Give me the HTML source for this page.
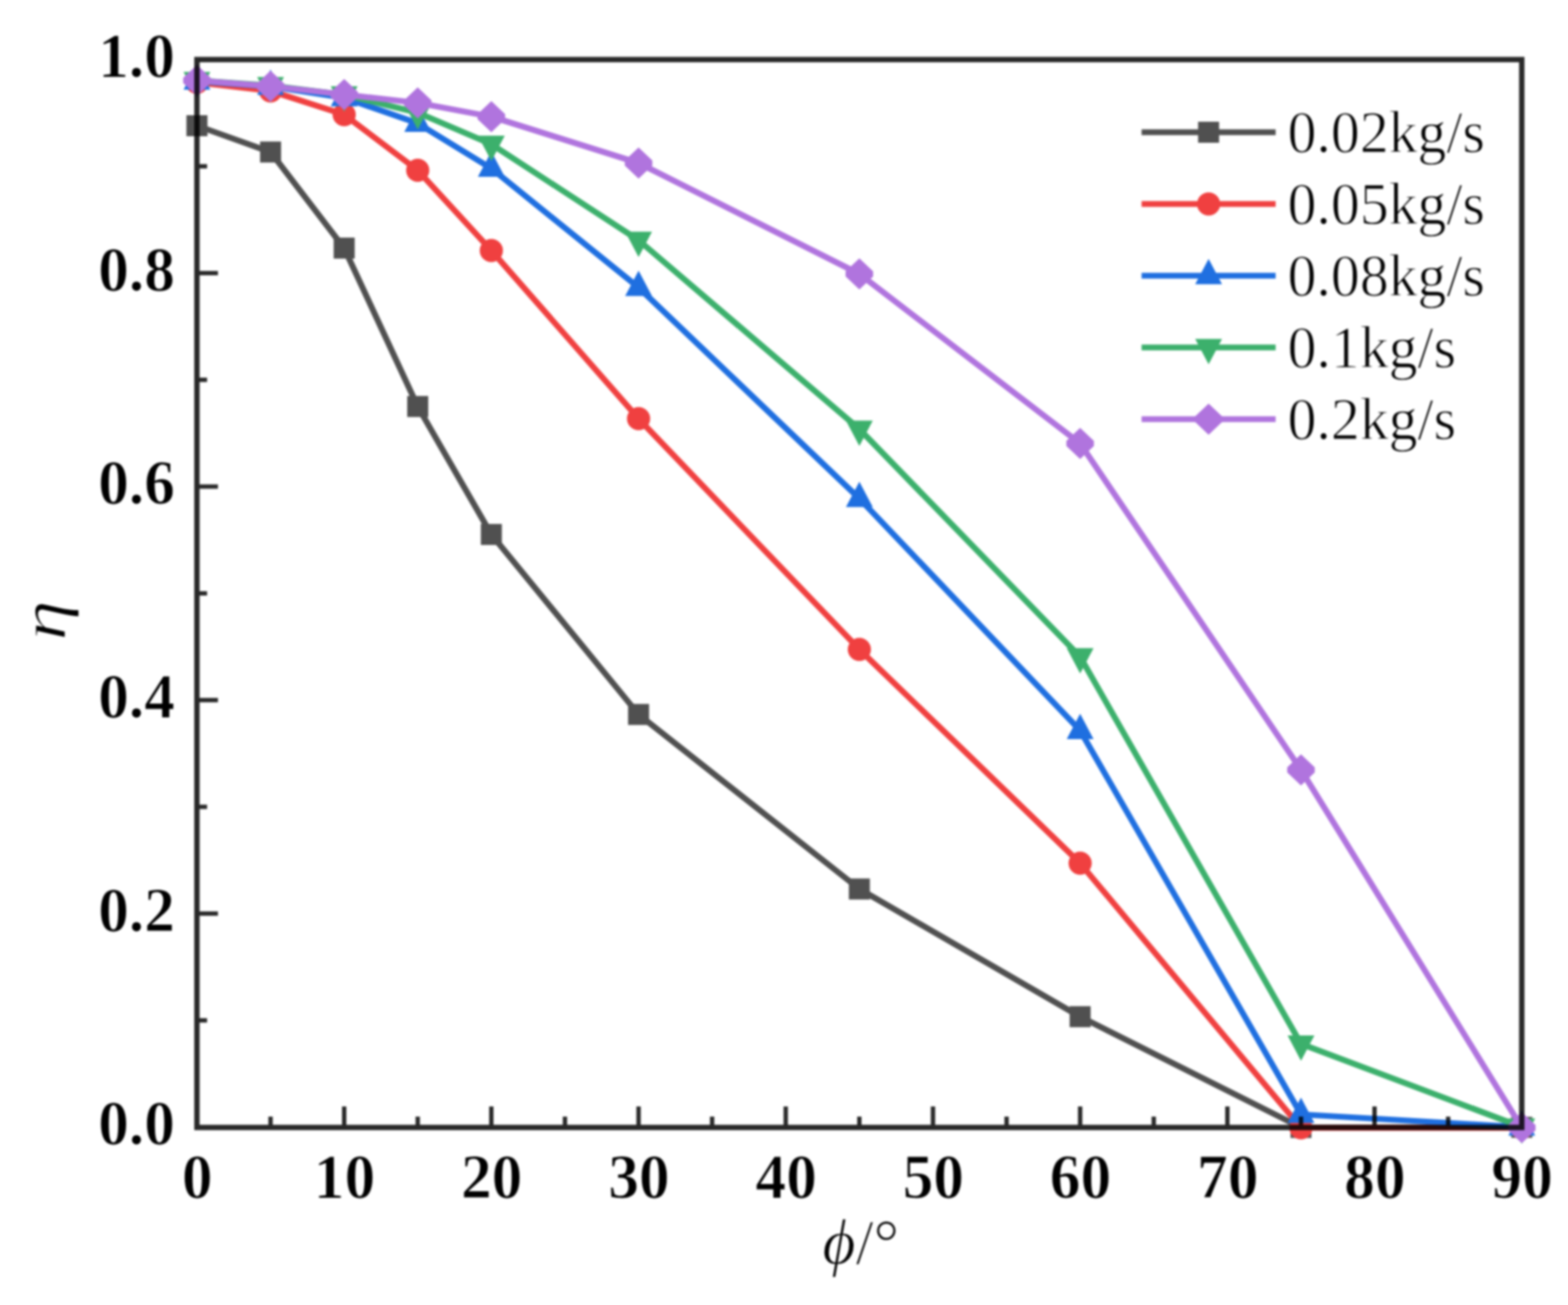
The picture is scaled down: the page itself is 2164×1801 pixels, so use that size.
<!DOCTYPE html>
<html lang="en">
<head>
<meta charset="utf-8">
<title>η – ϕ</title>
<style>
html,body{margin:0;padding:0;background:#fff;}
body{width:2164px;height:1801px;overflow:hidden;}
svg{display:block;filter:blur(1.5px);}
text{font-family:"Liberation Serif","DejaVu Serif",serif;fill:#000;}
.tick{font-weight:bold;font-size:87px;stroke:#fff;stroke-width:1.2px;}
.leg{font-size:82px;stroke:#fff;stroke-width:1.3px;}
.ax{font-size:88.5px;stroke:#fff;stroke-width:1.3px;}
.it{font-style:italic;}
</style>
</head>
<body>
<svg width="2164" height="1801" viewBox="0 0 2164 1801">
<rect x="-10" y="-10" width="2184" height="1821" fill="#fff"/>

<g id="series">
<g><polyline points="271.8,173.5 373.4,209.8 475.0,342.4 576.5,561.0 678.1,737.6 881.3,986.0 1186.0,1226.9 1490.7,1403.1 1795.5,1556.0 2100.2,1555.8" fill="none" stroke="#505050" stroke-width="8.2" stroke-linejoin="round" stroke-linecap="round"/>
<rect x="257.3" y="159.0" width="29" height="29" fill="#505050"/>
<rect x="358.9" y="195.3" width="29" height="29" fill="#505050"/>
<rect x="460.5" y="327.9" width="29" height="29" fill="#505050"/>
<rect x="562.0" y="546.5" width="29" height="29" fill="#505050"/>
<rect x="663.6" y="723.1" width="29" height="29" fill="#505050"/>
<rect x="866.8" y="971.5" width="29" height="29" fill="#505050"/>
<rect x="1171.5" y="1212.4" width="29" height="29" fill="#505050"/>
<rect x="1476.2" y="1388.6" width="29" height="29" fill="#505050"/>
<rect x="1781.0" y="1541.5" width="29" height="29" fill="#505050"/>
<rect x="2085.7" y="1541.3" width="29" height="29" fill="#505050"/>
</g>
<g><polyline points="271.8,113.8 373.4,125.5 475.0,158.2 576.5,235.0 678.1,345.8 881.3,577.8 1186.0,896.2 1490.7,1191.3 1795.5,1556.5 2100.2,1556.3" fill="none" stroke="#f04040" stroke-width="8.2" stroke-linejoin="round" stroke-linecap="round"/>
<circle cx="271.8" cy="113.8" r="16" fill="#f04040"/>
<circle cx="373.4" cy="125.5" r="16" fill="#f04040"/>
<circle cx="475.0" cy="158.2" r="16" fill="#f04040"/>
<circle cx="576.5" cy="235.0" r="16" fill="#f04040"/>
<circle cx="678.1" cy="345.8" r="16" fill="#f04040"/>
<circle cx="881.3" cy="577.8" r="16" fill="#f04040"/>
<circle cx="1186.0" cy="896.2" r="16" fill="#f04040"/>
<circle cx="1490.7" cy="1191.3" r="16" fill="#f04040"/>
<circle cx="1795.5" cy="1556.5" r="16" fill="#f04040"/>
<circle cx="2100.2" cy="1556.3" r="16" fill="#f04040"/>
</g>
<g><polyline points="271.8,112.0 373.4,119.3 475.0,135.0 576.5,170.2 678.1,232.4 881.3,396.8 1186.0,688.0 1490.7,1008.2 1795.5,1538.0 2100.2,1555.5" fill="none" stroke="#1f6fe0" stroke-width="8.2" stroke-linejoin="round" stroke-linecap="round"/>
<polygon points="271.8,88.7 290.3,123.7 253.3,123.7" fill="#1f6fe0"/>
<polygon points="373.4,96.0 391.9,131.0 354.9,131.0" fill="#1f6fe0"/>
<polygon points="475.0,111.7 493.5,146.7 456.5,146.7" fill="#1f6fe0"/>
<polygon points="576.5,146.9 595.0,181.9 558.0,181.9" fill="#1f6fe0"/>
<polygon points="678.1,209.1 696.6,244.1 659.6,244.1" fill="#1f6fe0"/>
<polygon points="881.3,373.5 899.8,408.5 862.8,408.5" fill="#1f6fe0"/>
<polygon points="1186.0,664.7 1204.5,699.7 1167.5,699.7" fill="#1f6fe0"/>
<polygon points="1490.7,984.9 1509.2,1019.9 1472.2,1019.9" fill="#1f6fe0"/>
<polygon points="1795.5,1514.7 1814.0,1549.7 1777.0,1549.7" fill="#1f6fe0"/>
<polygon points="2100.2,1532.2 2118.7,1567.2 2081.7,1567.2" fill="#1f6fe0"/>
</g>
<g><polyline points="271.8,111.0 373.4,118.0 475.0,130.8 576.5,155.5 678.1,199.0 881.3,331.5 1186.0,592.2 1490.7,906.3 1795.5,1440.6 2100.2,1555.3" fill="none" stroke="#3cb06c" stroke-width="8.2" stroke-linejoin="round" stroke-linecap="round"/>
<polygon points="271.8,134.3 290.3,99.3 253.3,99.3" fill="#3cb06c"/>
<polygon points="373.4,141.3 391.9,106.3 354.9,106.3" fill="#3cb06c"/>
<polygon points="475.0,154.1 493.5,119.1 456.5,119.1" fill="#3cb06c"/>
<polygon points="576.5,178.8 595.0,143.8 558.0,143.8" fill="#3cb06c"/>
<polygon points="678.1,222.3 696.6,187.3 659.6,187.3" fill="#3cb06c"/>
<polygon points="881.3,354.8 899.8,319.8 862.8,319.8" fill="#3cb06c"/>
<polygon points="1186.0,615.5 1204.5,580.5 1167.5,580.5" fill="#3cb06c"/>
<polygon points="1490.7,929.6 1509.2,894.6 1472.2,894.6" fill="#3cb06c"/>
<polygon points="1795.5,1463.9 1814.0,1428.9 1777.0,1428.9" fill="#3cb06c"/>
<polygon points="2100.2,1578.6 2118.7,1543.6 2081.7,1543.6" fill="#3cb06c"/>
</g>
<g><polyline points="271.8,111.0 373.4,119.0 475.0,130.5 576.5,142.0 678.1,161.0 881.3,225.0 1186.0,378.0 1490.7,612.0 1795.5,1062.5 2100.2,1556.2" fill="none" stroke="#b074de" stroke-width="8.2" stroke-linejoin="round" stroke-linecap="round"/>
<polygon points="271.8,89.5 290.8,107.5 290.8,114.5 271.8,132.5 252.8,114.5 252.8,107.5" fill="#b074de"/>
<polygon points="373.4,97.5 392.4,115.5 392.4,122.5 373.4,140.5 354.4,122.5 354.4,115.5" fill="#b074de"/>
<polygon points="475.0,109.0 494.0,127.0 494.0,134.0 475.0,152.0 456.0,134.0 456.0,127.0" fill="#b074de"/>
<polygon points="576.5,120.5 595.5,138.5 595.5,145.5 576.5,163.5 557.5,145.5 557.5,138.5" fill="#b074de"/>
<polygon points="678.1,139.5 697.1,157.5 697.1,164.5 678.1,182.5 659.1,164.5 659.1,157.5" fill="#b074de"/>
<polygon points="881.3,203.5 900.3,221.5 900.3,228.5 881.3,246.5 862.3,228.5 862.3,221.5" fill="#b074de"/>
<polygon points="1186.0,356.5 1205.0,374.5 1205.0,381.5 1186.0,399.5 1167.0,381.5 1167.0,374.5" fill="#b074de"/>
<polygon points="1490.7,590.5 1509.7,608.5 1509.7,615.5 1490.7,633.5 1471.7,615.5 1471.7,608.5" fill="#b074de"/>
<polygon points="1795.5,1041.0 1814.5,1059.0 1814.5,1066.0 1795.5,1084.0 1776.5,1066.0 1776.5,1059.0" fill="#b074de"/>
<polygon points="2100.2,1534.7 2119.2,1552.7 2119.2,1559.7 2100.2,1577.7 2081.2,1559.7 2081.2,1552.7" fill="#b074de"/>
</g>
</g>
<g id="axes" stroke="#000" opacity="0.84" fill="none">
<rect x="271.8" y="82.2" width="1828.4" height="1473.8" stroke-width="7.4"/>
<line x1="373.4" y1="1556.0" x2="373.4" y2="1541.0" stroke-width="6"/>
<line x1="475.0" y1="1556.0" x2="475.0" y2="1527.0" stroke-width="6"/>
<line x1="576.5" y1="1556.0" x2="576.5" y2="1541.0" stroke-width="6"/>
<line x1="678.1" y1="1556.0" x2="678.1" y2="1527.0" stroke-width="6"/>
<line x1="779.7" y1="1556.0" x2="779.7" y2="1541.0" stroke-width="6"/>
<line x1="881.3" y1="1556.0" x2="881.3" y2="1527.0" stroke-width="6"/>
<line x1="982.8" y1="1556.0" x2="982.8" y2="1541.0" stroke-width="6"/>
<line x1="1084.4" y1="1556.0" x2="1084.4" y2="1527.0" stroke-width="6"/>
<line x1="1186.0" y1="1556.0" x2="1186.0" y2="1541.0" stroke-width="6"/>
<line x1="1287.6" y1="1556.0" x2="1287.6" y2="1527.0" stroke-width="6"/>
<line x1="1389.2" y1="1556.0" x2="1389.2" y2="1541.0" stroke-width="6"/>
<line x1="1490.7" y1="1556.0" x2="1490.7" y2="1527.0" stroke-width="6"/>
<line x1="1592.3" y1="1556.0" x2="1592.3" y2="1541.0" stroke-width="6"/>
<line x1="1693.9" y1="1556.0" x2="1693.9" y2="1527.0" stroke-width="6"/>
<line x1="1795.5" y1="1556.0" x2="1795.5" y2="1541.0" stroke-width="6"/>
<line x1="1897.0" y1="1556.0" x2="1897.0" y2="1527.0" stroke-width="6"/>
<line x1="1998.6" y1="1556.0" x2="1998.6" y2="1541.0" stroke-width="6"/>
<line x1="271.8" y1="1408.2" x2="285.8" y2="1408.2" stroke-width="6"/>
<line x1="271.8" y1="1260.8" x2="300.8" y2="1260.8" stroke-width="6"/>
<line x1="271.8" y1="1113.5" x2="285.8" y2="1113.5" stroke-width="6"/>
<line x1="271.8" y1="966.2" x2="300.8" y2="966.2" stroke-width="6"/>
<line x1="271.8" y1="818.9" x2="285.8" y2="818.9" stroke-width="6"/>
<line x1="271.8" y1="671.5" x2="300.8" y2="671.5" stroke-width="6"/>
<line x1="271.8" y1="524.2" x2="285.8" y2="524.2" stroke-width="6"/>
<line x1="271.8" y1="376.9" x2="300.8" y2="376.9" stroke-width="6"/>
<line x1="271.8" y1="229.5" x2="285.8" y2="229.5" stroke-width="6"/>
</g>
<g id="xticks" class="tick" text-anchor="middle">
<text transform="translate(272.3,1653) scale(0.975,1)">0</text>
<text transform="translate(475.5,1653) scale(0.975,1)">10</text>
<text transform="translate(678.6,1653) scale(0.975,1)">20</text>
<text transform="translate(881.8,1653) scale(0.975,1)">30</text>
<text transform="translate(1084.9,1653) scale(0.975,1)">40</text>
<text transform="translate(1288.1,1653) scale(0.975,1)">50</text>
<text transform="translate(1491.2,1653) scale(0.975,1)">60</text>
<text transform="translate(1694.4,1653) scale(0.975,1)">70</text>
<text transform="translate(1897.5,1653) scale(0.975,1)">80</text>
<text transform="translate(2100.7,1653) scale(0.975,1)">90</text>
</g>
<g id="yticks" class="tick" text-anchor="end">
<text transform="translate(241.4,1579.3) scale(0.975,1)">0.0</text>
<text transform="translate(241.4,1284.6) scale(0.975,1)">0.2</text>
<text transform="translate(241.4,990.0) scale(0.975,1)">0.4</text>
<text transform="translate(241.4,695.3) scale(0.975,1)">0.6</text>
<text transform="translate(241.4,400.7) scale(0.975,1)">0.8</text>
<text transform="translate(241.4,106.0) scale(0.975,1)">1.0</text>
</g>
<text class="ax" x="1188" y="1743.5" text-anchor="middle"><tspan class="it">ϕ</tspan>/°</text>
<text class="ax it" transform="translate(90,856) rotate(-90) scale(1.27,1)" text-anchor="middle">η</text>
<g id="legend">
<line x1="1575.5" y1="182.5" x2="1760.5" y2="182.5" stroke="#505050" stroke-width="8.2"/>
<rect x="1653.5" y="168.0" width="29" height="29" fill="#505050"/>
<text class="leg" transform="translate(1777,209.5) scale(0.972,1)">0.02kg/s</text>
<line x1="1575.5" y1="281.5" x2="1760.5" y2="281.5" stroke="#f04040" stroke-width="8.2"/>
<circle cx="1668.0" cy="281.5" r="16" fill="#f04040"/>
<text class="leg" transform="translate(1777,308.5) scale(0.972,1)">0.05kg/s</text>
<line x1="1575.5" y1="380.5" x2="1760.5" y2="380.5" stroke="#1f6fe0" stroke-width="8.2"/>
<polygon points="1668.0,357.2 1686.5,392.2 1649.5,392.2" fill="#1f6fe0"/>
<text class="leg" transform="translate(1777,407.5) scale(0.972,1)">0.08kg/s</text>
<line x1="1575.5" y1="479.5" x2="1760.5" y2="479.5" stroke="#3cb06c" stroke-width="8.2"/>
<polygon points="1668.0,502.8 1686.5,467.8 1649.5,467.8" fill="#3cb06c"/>
<text class="leg" transform="translate(1777,506.5) scale(0.972,1)">0.1kg/s</text>
<line x1="1575.5" y1="578.5" x2="1760.5" y2="578.5" stroke="#b074de" stroke-width="8.2"/>
<polygon points="1668.0,557.0 1687.0,575.0 1687.0,582.0 1668.0,600.0 1649.0,582.0 1649.0,575.0" fill="#b074de"/>
<text class="leg" transform="translate(1777,605.5) scale(0.972,1)">0.2kg/s</text>
</g>
</svg>
</body>
</html>
